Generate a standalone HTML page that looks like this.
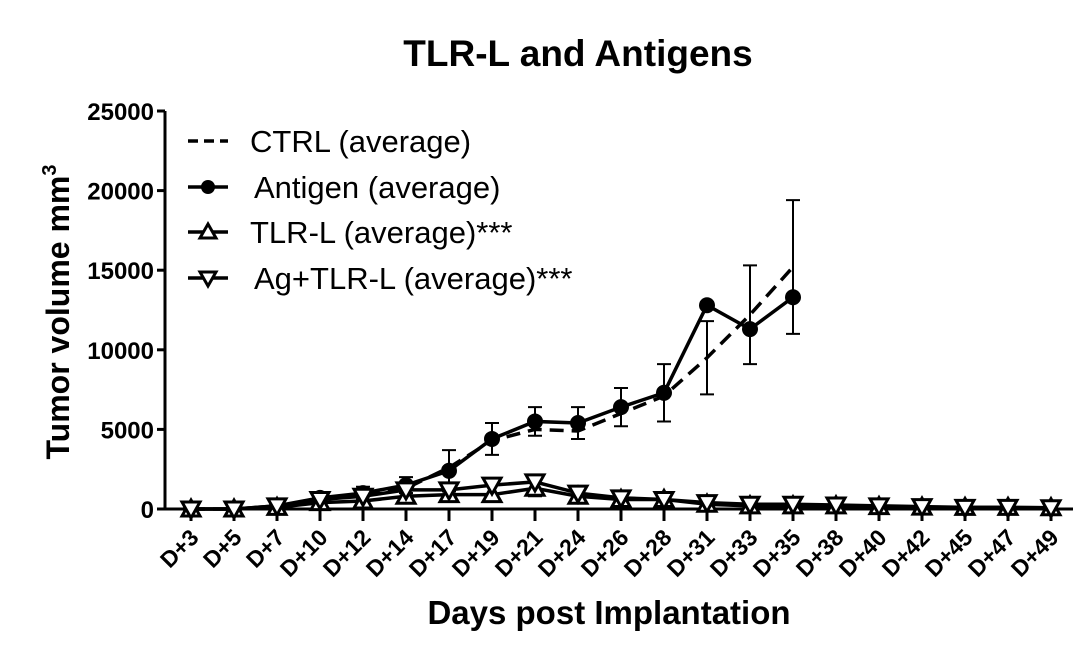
<!DOCTYPE html>
<html><head><meta charset="utf-8"><style>
body{margin:0;background:#fff;}
svg{display:block;font-family:"Liberation Sans",Arial,sans-serif;}
</style></head><body>
<svg id="chart" width="1091" height="660" viewBox="0 0 1091 660" xmlns="http://www.w3.org/2000/svg">
<text x="578" y="66" font-size="37" font-weight="bold" text-anchor="middle">TLR-L and Antigens</text>
<text transform="translate(69,312) rotate(-90)" font-size="32" font-weight="bold" text-anchor="middle">Tumor volume mm<tspan font-size="20" dy="-13">3</tspan></text>
<text x="609" y="624" font-size="33" font-weight="bold" text-anchor="middle">Days post Implantation</text>
<g id="axes"></g><g id="marks"></g>
<g font-size="31">
 <g><line x1="188" y1="141" x2="228" y2="141" stroke="#000" stroke-width="3.5" stroke-dasharray="10,6"/><text x="250" y="152">CTRL (average)</text></g>
 <g><line x1="188" y1="187" x2="228" y2="187" stroke="#000" stroke-width="3.5"/><circle cx="208" cy="187" r="7" fill="#000"/><text x="254" y="198">Antigen (average)</text></g>
 <g><line x1="188" y1="232" x2="228" y2="232" stroke="#000" stroke-width="3.5"/><path d="M208,224 L216,238 L200,238 Z" fill="#fff" stroke="#000" stroke-width="3"/><text x="250" y="243">TLR-L (average)***</text></g>
 <g><line x1="188" y1="278" x2="228" y2="278" stroke="#000" stroke-width="3.5"/><path d="M200,272 L216,272 L208,286 Z" fill="#fff" stroke="#000" stroke-width="3"/><text x="254" y="289">Ag+TLR-L (average)***</text></g>
</g>
</svg>
<script>
const categories=["D+3","D+5","D+7","D+10","D+12","D+14","D+17","D+19","D+21","D+24","D+26","D+28","D+31","D+33","D+35","D+38","D+40","D+42","D+45","D+47","D+49"];
const yTicks=[0,5000,10000,15000,20000,25000];
const ctrl=[0,0,150,600,900,1300,2600,4300,5000,4900,6000,7100,9500,12200,15200];
const ctrlErr=[0,0,0,0,0,0,0,0,0,0,0,0,2300,3100,4200];
const antigen=[0,0,200,700,1000,1500,2400,4400,5500,5400,6400,7300,12800,11300,13300];
const antigenErr=[0,0,100,200,400,500,1300,1000,900,1000,1200,1800,0,0,0];
const tlrl=[0,0,100,400,500,800,900,900,1300,800,600,600,300,200,200,200,150,120,100,100,80];
const tlrlErr=[0,0,0,0,0,200,0,0,500,0,0,0,0,0,0,0,0,0,0,0,0];
const agtlrl=[0,0,200,600,800,1200,1200,1500,1700,1000,700,600,400,300,300,250,200,150,100,100,80];
const NS="http://www.w3.org/2000/svg";
const x0=191,dx=43,y0=509,yTop=111,yMax=25000;
const X=i=>x0+i*dx, Y=v=>y0-(v/yMax)*(y0-yTop);
const axes=document.getElementById('axes'),marks=document.getElementById('marks');
function mk(tag,at,par){const e=document.createElementNS(NS,tag);for(const k in at)e.setAttribute(k,at[k]);par.appendChild(e);return e;}
let e=mk('line',{x1:165,y1:Y(yMax),x2:165,y2:y0,stroke:'#000','stroke-width':3},axes);


e=mk('line',{x1:165,y1:y0,x2:1073,y2:y0,stroke:'#000','stroke-width':3},axes);


yTicks.forEach(v=>{
 const t=mk('line',{x1:157,y1:Y(v),x2:165,y2:Y(v),stroke:'#000','stroke-width':3},axes);
 
 
 const l=mk('text',{x:154,y:Y(v)+9,'font-size':24,'font-weight':'bold','text-anchor':'end'},axes);
 l.textContent=v;
 
 
});
categories.forEach((c,i)=>{
 const t=mk('line',{x1:X(i),y1:y0,x2:X(i),y2:y0+12,stroke:'#000','stroke-width':3},axes);
 
 
 const l=mk('text',{transform:`translate(${X(i)+9},${y0+30}) rotate(-45)`,'font-size':23,'font-weight':'bold','text-anchor':'end'},axes);
 l.textContent=c;
 
 
});
function series(vals,errs,name,dash,marker){
 const g=mk('g',{},marks);
 
 
 errs.forEach((er,i)=>{if(er>0){
  const eb=mk('path',{d:`M${X(i)},${Y(vals[i]+er)}V${Y(vals[i]-er)}M${X(i)-7},${Y(vals[i]+er)}h14M${X(i)-7},${Y(vals[i]-er)}h14`,stroke:'#000','stroke-width':2,fill:'none'},g);
  
  
 }});
 const p=mk('polyline',{points:vals.map((v,i)=>X(i)+','+Y(v)).join(' '),fill:'none',stroke:'#000','stroke-width':3.5},g);
 if(dash)p.setAttribute('stroke-dasharray','14,8');
 
 
 vals.forEach((v,i)=>{
  let m;const x=X(i),y=Y(v);
  if(marker==='circle')m=mk('circle',{cx:x,cy:y,r:8,fill:'#000'},g);
  else if(marker==='up')m=mk('path',{d:`M${x},${y-9}L${x+9},${y+7}L${x-9},${y+7}Z`,fill:'#fff',stroke:'#000','stroke-width':3},g);
  else if(marker==='down')m=mk('path',{d:`M${x-9},${y-7}L${x+9},${y-7}L${x},${y+9}Z`,fill:'#fff',stroke:'#000','stroke-width':3},g);
  if(m){
  }
 });
}
series(ctrl,ctrlErr,'series-ctrl',true,null);
series(antigen,antigenErr,'series-antigen',false,'circle');
series(tlrl,tlrlErr,'series-tlrl',false,'up');
series(agtlrl,tlrlErr.map(()=>0),'series-ag-tlrl',false,'down');
</script>
</body></html>
